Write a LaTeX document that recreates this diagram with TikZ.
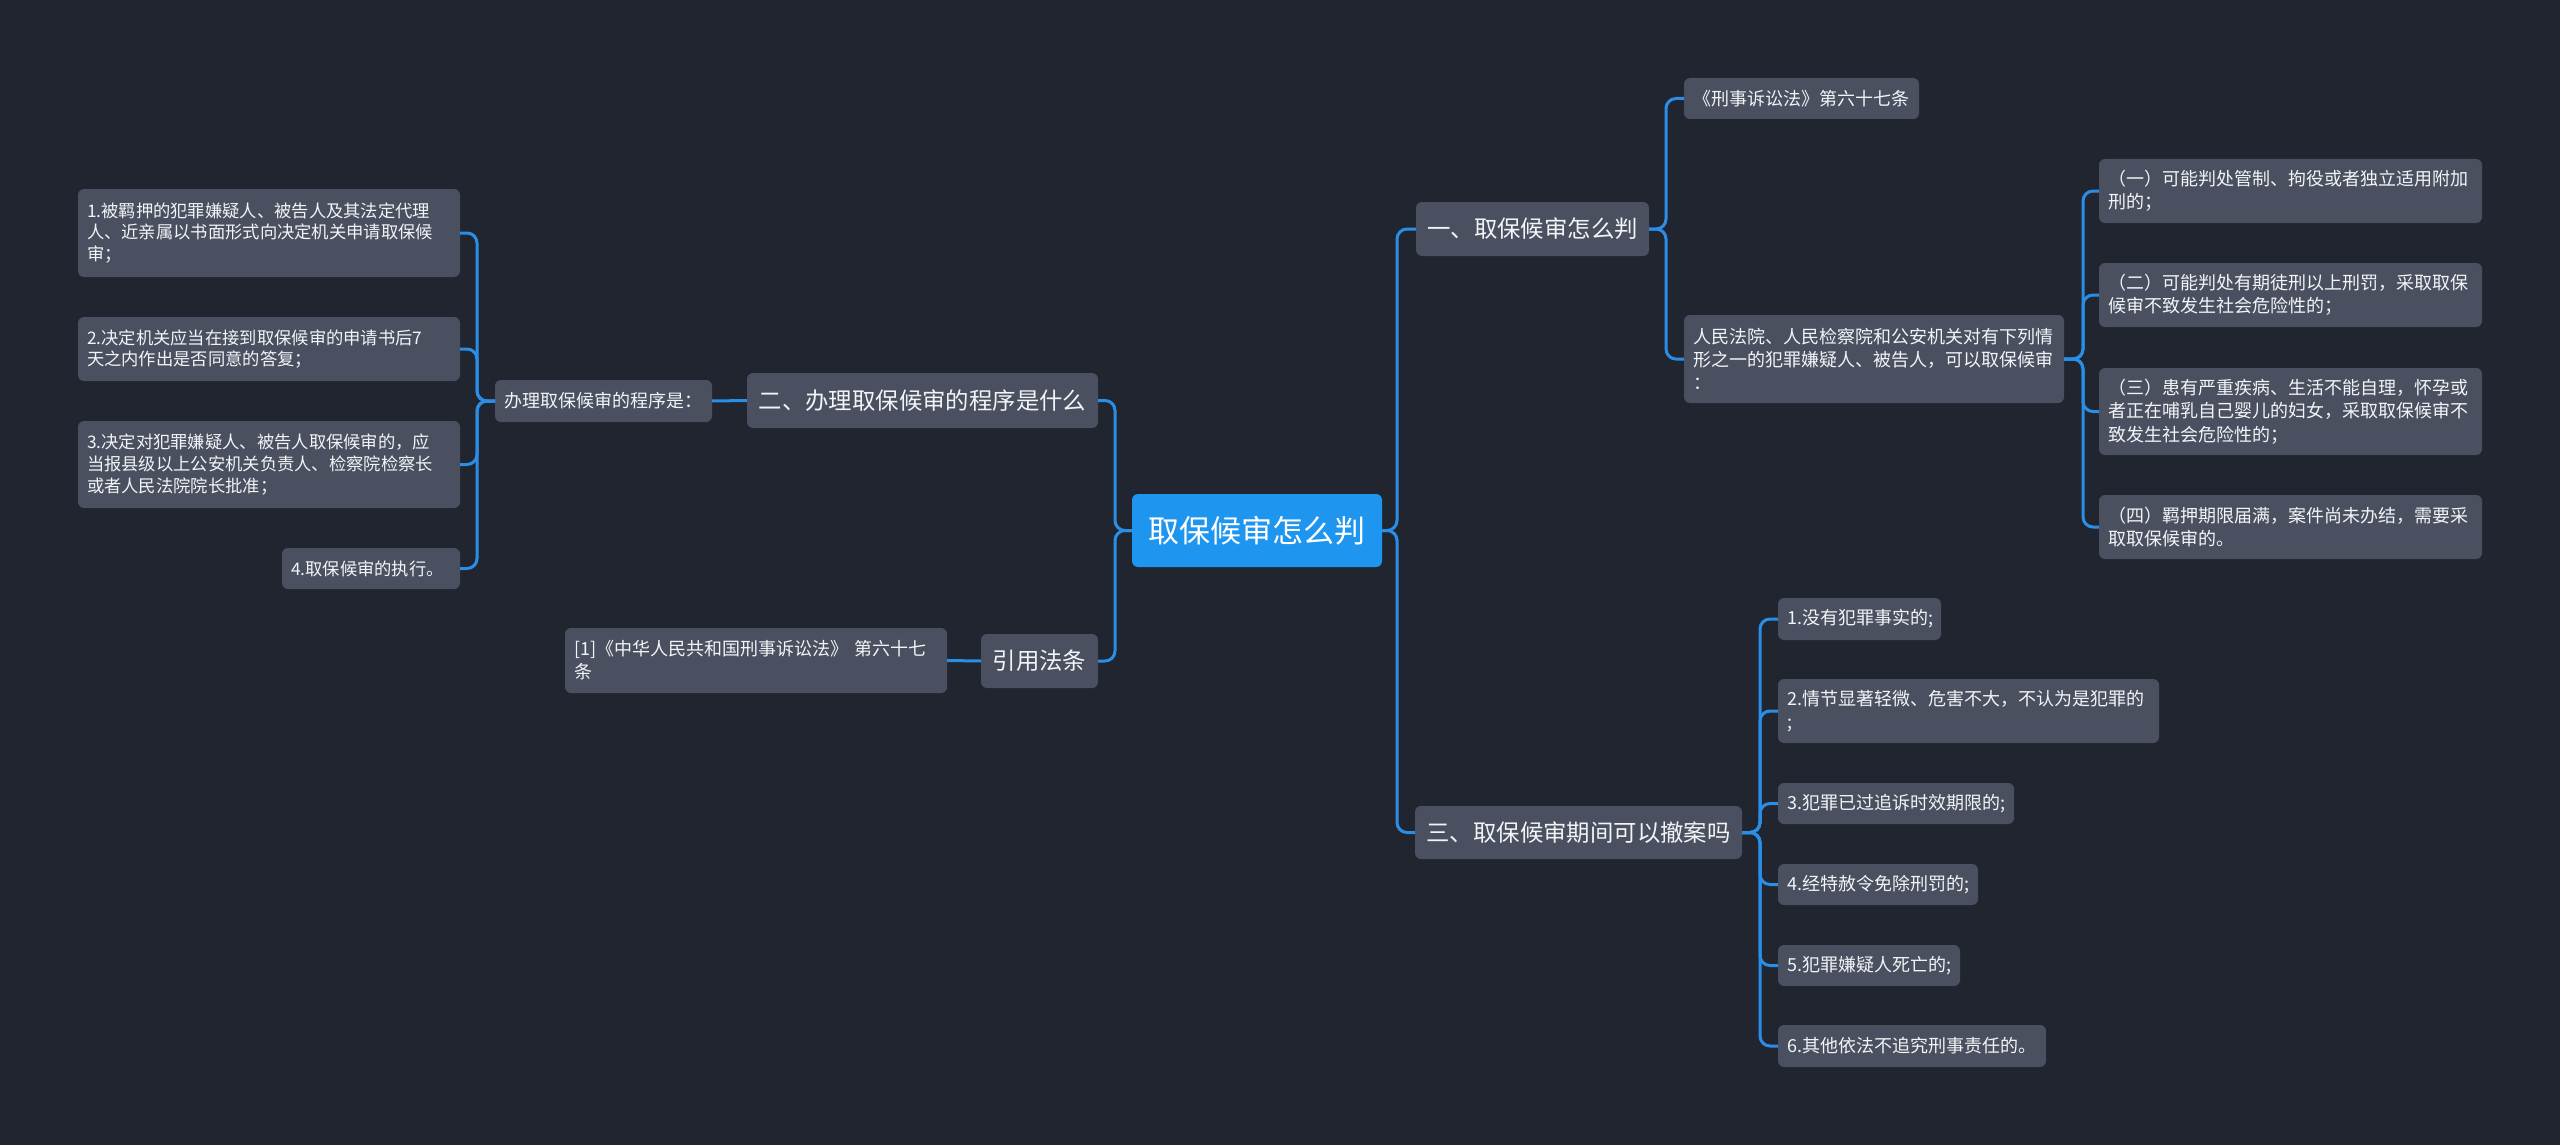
\documentclass[tikz,border=0pt]{standalone}
\usepackage{fontspec}
\setmainfont{Noto Sans CJK SC}
\definecolor{bgc}{HTML}{21252F}
\definecolor{boxc}{HTML}{4A5060}
\definecolor{linec}{HTML}{2A8EE6}
\definecolor{rootc}{HTML}{1E96F0}
\definecolor{txtc}{HTML}{F2F4F7}
\newcommand\bx[7]{%
  \pgfmathsetmacro\bxw{#5-#3}\pgfmathsetmacro\bxh{#6-#4}%
  \pgfmathsetmacro\bxt{#5-#3-18}%
  \pgfmathsetmacro\bxcx{(#3+#5)/2}\pgfmathsetmacro\bxcy{(#4+#6)/2}%
  \node[#1, minimum width=\bxw pt, minimum height=\bxh pt, text width=\bxt pt] (#2) at (\bxcx,\bxcy) {#7};}
\begin{document}
\begin{tikzpicture}[x=1pt,y=-1pt,
  base/.style={fill=boxc, rounded corners=6pt, text=txtc, inner xsep=9pt, inner ysep=1pt, outer sep=0pt},
  rootbox/.style={base, fill=rootc, text=white, align=center, font=\fontsize{31}{36}\selectfont},
  lvone/.style={base, align=center, font=\fontsize{23.4}{28}\selectfont},
  lvtwo/.style={base, align=left, font=\fontsize{18}{23}\selectfont},
  leafl/.style={base, align=left, font=\fontsize{17.3}{21.7}\selectfont},
  leafr/.style={base, align=left, font=\fontsize{18}{23.3}\selectfont},
  conn/.style={draw=linec, line width=3pt, rounded corners=10pt}]
\fill[bgc] (0,0) rectangle (2560,1145);
\useasboundingbox (0,0) rectangle (2560,1145);
% root
\bx{rootbox}{root}{1132}{494}{1382}{567}{取保候审怎么判}
% left side
\bx{lvone}{n2}{747}{373}{1098}{428}{二、办理取保候审的程序是什么}
\bx{lvone}{ref}{981}{634}{1098}{688}{引用法条}
\bx{lvtwo}{cite}{565}{628}{947}{693}{[1]《中华人民共和国刑事诉讼法》 第六十七\\条}
\bx{lvtwo}{proc}{495}{380}{712}{422}{办理取保候审的程序是：}
\bx{leafl}{L1}{78}{189}{460}{277}{1.被羁押的犯罪嫌疑人、被告人及其法定代理\\人、近亲属以书面形式向决定机关申请取保候\\审；}
\bx{leafl}{L2}{78}{317}{460}{381}{2.决定机关应当在接到取保候审的申请书后7\\天之内作出是否同意的答复；}
\bx{leafl}{L3}{78}{421}{460}{508}{3.决定对犯罪嫌疑人、被告人取保候审的，应\\当报县级以上公安机关负责人、检察院检察长\\或者人民法院院长批准；}
\bx{leafl}{L4}{282}{548}{460}{589}{4.取保候审的执行。}
% right side
\bx{lvone}{n1}{1416}{202}{1649}{256}{一、取保候审怎么判}
\bx{lvtwo}{law}{1684}{78}{1919}{119}{《刑事诉讼法》第六十七条}
\bx{lvtwo}{court}{1684}{315}{2064}{403}{人民法院、人民检察院和公安机关对有下列情\\形之一的犯罪嫌疑人、被告人，可以取保候审\\：}
\bx{leafr}{s1}{2099}{159}{2482}{223}{（一）可能判处管制、拘役或者独立适用附加\\刑的；}
\bx{leafr}{s2}{2099}{263}{2482}{327}{（二）可能判处有期徒刑以上刑罚，采取取保\\候审不致发生社会危险性的；}
\bx{leafr}{s3}{2099}{368}{2482}{455}{（三）患有严重疾病、生活不能自理，怀孕或\\者正在哺乳自己婴儿的妇女，采取取保候审不\\致发生社会危险性的；}
\bx{leafr}{s4}{2099}{495}{2482}{559}{（四）羁押期限届满，案件尚未办结，需要采\\取取保候审的。}
\bx{lvone}{n3}{1415}{806}{1742}{859}{三、取保候审期间可以撤案吗}
\bx{leafr}{t1}{1778}{598}{1941}{640}{1.没有犯罪事实的;}
\bx{leafr}{t2}{1778}{679}{2159}{743}{2.情节显著轻微、危害不大，不认为是犯罪的\\;}
\bx{leafr}{t3}{1778}{783}{2014}{824}{3.犯罪已过追诉时效期限的;}
\bx{leafr}{t4}{1778}{864}{1978}{905}{4.经特赦令免除刑罚的;}
\bx{leafr}{t5}{1778}{945}{1960}{986}{5.犯罪嫌疑人死亡的;}
\bx{leafr}{t6}{1778}{1025}{2046}{1067}{6.其他依法不追究刑事责任的。}
% connectors
\foreach \c in {n1,n3} \draw[conn] (root.east) -- ++(15,0) |- (\c.west);
\foreach \c in {n2,ref} \draw[conn] (root.west) -- ++(-17,0) |- (\c.east);
\draw[conn] (n2.west) -- (proc.east);
\draw[conn] (ref.west) -- (cite.east);
\foreach \c in {L1,L2,L3,L4} \draw[conn] (proc.west) -- ++(-18,0) |- (\c.east);
\foreach \c in {law,court} \draw[conn] (n1.east) -- ++(17,0) |- (\c.west);
\foreach \c in {s1,s2,s3,s4} \draw[conn] (court.east) -- ++(19,0) |- (\c.west);
\foreach \c in {t1,t2,t3,t4,t5,t6} \draw[conn] (n3.east) -- ++(18,0) |- (\c.west);
\end{tikzpicture}
\end{document}
